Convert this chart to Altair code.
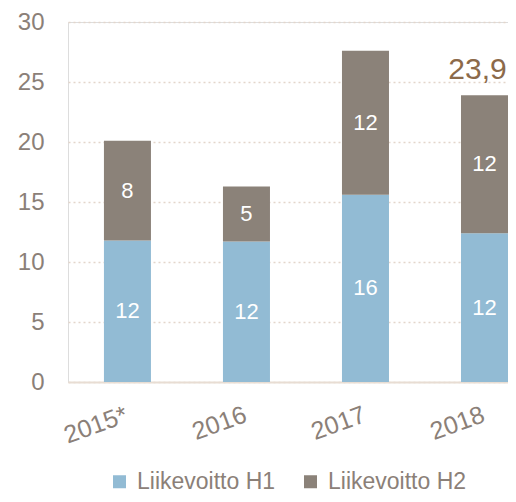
import altair as alt
import pandas as pd

years = ["2015*", "2016", "2017", "2018"]
h1 = [11.8, 11.7, 15.6, 12.4]
h2 = [8.3, 4.6, 12.0, 11.5]
h1_labels = ["12", "12", "16", "12"]
h2_labels = ["8", "5", "12", "12"]
total_labels = ["", "", "", "23,9"]
series = ["Liikevoitto H1", "Liikevoitto H2"]
colors = ["#92BBD4", "#8B8279"]
y_ticks = [0, 5, 10, 15, 20, 25, 30]

TEXT = "#8B8078"
FONT = "Liberation Sans"

rows = []
for i, yr in enumerate(years):
    rows.append(dict(year=yr, series=series[0], value=h1[i], order=0,
                     mid=h1[i] / 2, label=h1_labels[i]))
    rows.append(dict(year=yr, series=series[1], value=h2[i], order=1,
                     mid=h1[i] + h2[i] / 2, label=h2_labels[i]))
df = pd.DataFrame(rows)
tot = pd.DataFrame(dict(year=years, total=[a + b for a, b in zip(h1, h2)], label=total_labels))
tot = tot[tot["label"] != ""]

xenc = alt.X(
    "year:N", sort=years,
    scale=alt.Scale(paddingInner=0.605, paddingOuter=0.151, align=1),
    axis=alt.Axis(title=None, labelAngle=340, labelAlign="right", labelBaseline="top",
                  labelFontSize=25, labelColor=TEXT, labelFont=FONT, labelPadding=20,
                  labelOffset=-5,
                  ticks=False, tickSize=0, domainColor="#E8DDD3", domainWidth=2, grid=False),
)

bars = alt.Chart(df).mark_bar().encode(
    x=xenc,
    y=alt.Y("value:Q", stack="zero",
            scale=alt.Scale(domain=[0, 30], nice=False),
            axis=alt.Axis(values=y_ticks, title=None, domain=False, ticks=False, tickSize=0,
                          labelPadding=24, labelFontSize=24, labelColor=TEXT, labelFont=FONT,
                          gridDash=[2, 3], gridColor="#E3D6CB", gridWidth=1.5)),
    color=alt.Color("series:N", scale=alt.Scale(domain=series, range=colors),
                    legend=alt.Legend(title=None, orient="none", legendX=40, legendY=448,
                                      direction="horizontal", symbolType="square",
                                      symbolSize=169, symbolStrokeWidth=0,
                                      labelFontSize=23, labelColor=TEXT, labelFont=FONT,
                                      columnPadding=23, labelOffset=6)),
    order=alt.Order("order:Q"),
)

seg_text = alt.Chart(df).mark_text(color="white", fontSize=22, font=FONT,
                                   align="center", baseline="middle").encode(
    x=alt.X("year:N", sort=years),
    y=alt.Y("mid:Q"),
    text="label:N",
)

tot_text = alt.Chart(tot).mark_text(color="#8C6A4A", fontSize=30, font=FONT,
                                    align="center", baseline="alphabetic", dy=-16, dx=-7).encode(
    x=alt.X("year:N", sort=years),
    y=alt.Y("total:Q"),
    text="label:N",
)

chart = alt.layer(bars, seg_text, tot_text).properties(
    width=440, height=360,
    autosize=alt.AutoSizeParams(type="none"),
    padding={"left": 60, "top": 14, "right": 0, "bottom": 112},
).configure_view(stroke=None).configure(font=FONT)

chart.save("out.html", embed_options={"renderer": "svg", "actions": False})
